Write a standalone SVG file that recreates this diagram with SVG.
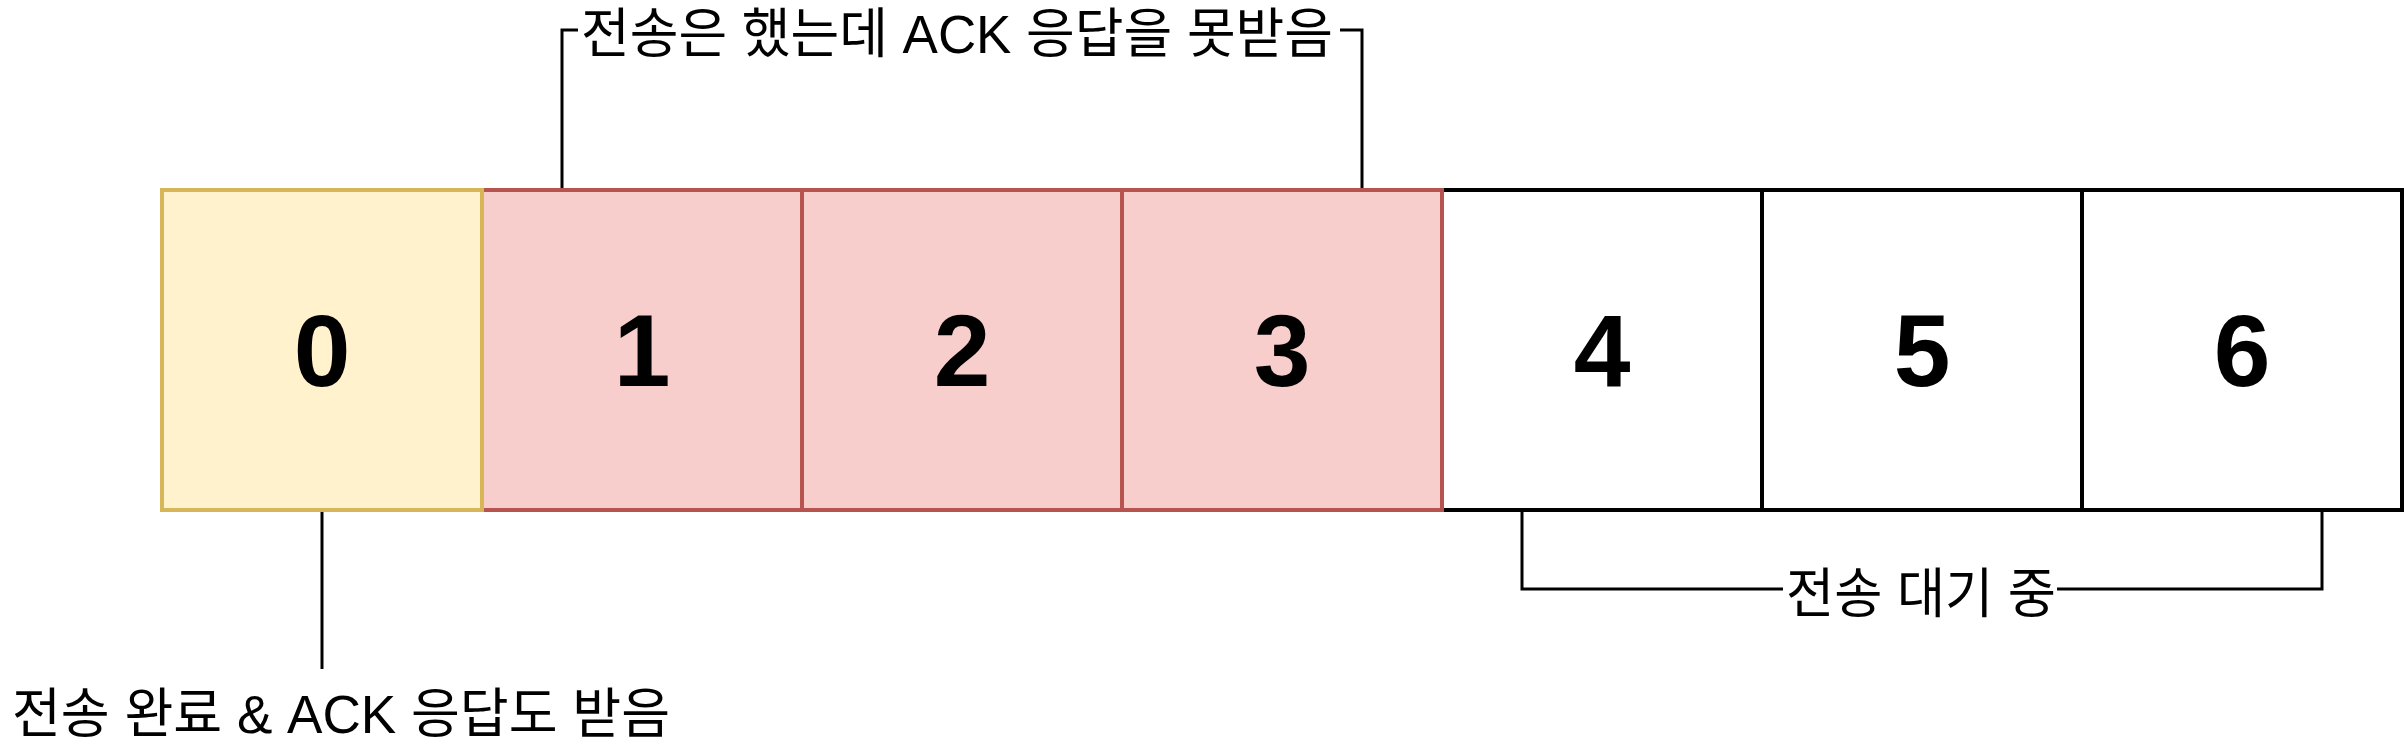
<svg xmlns="http://www.w3.org/2000/svg" width="2404" height="752" viewBox="0 0 2404 752">
<style>
.box{stroke-width:4}
.y{fill:#fff2cc;stroke:#d6b656}
.r{fill:#f8cecc;stroke:#b85450}
.w{fill:#ffffff;stroke:#000000}
.num{font-family:"Liberation Sans",Arial,sans-serif;font-weight:bold;font-size:102px;text-anchor:middle;fill:#000}
.lbl{font-family:"Liberation Sans","Noto Sans CJK KR",sans-serif;font-size:54px;fill:#000}
.ln{fill:none;stroke:#000;stroke-width:3}
</style>
<rect width="2404" height="752" fill="#ffffff"/>
<g id="connectors">
<path class="ln" d="M562,190 V30 H1362 V190"/>
<path class="ln" d="M1522,510 V589 H2322 V510"/>
<path class="ln" d="M322,510 V669"/>
</g>
<g id="node-4"><rect class="box w" x="1442" y="190" width="320" height="320"/><text class="num" x="1602" y="386">4</text></g>
<g id="node-5"><rect class="box w" x="1762" y="190" width="320" height="320"/><text class="num" x="1922" y="386">5</text></g>
<g id="node-6"><rect class="box w" x="2082" y="190" width="320" height="320"/><text class="num" x="2242" y="386">6</text></g>
<g id="node-1"><rect class="box r" x="482" y="190" width="320" height="320"/><text class="num" x="642" y="386">1</text></g>
<g id="node-2"><rect class="box r" x="802" y="190" width="320" height="320"/><text class="num" x="962" y="386">2</text></g>
<g id="node-3"><rect class="box r" x="1122" y="190" width="320" height="320"/><text class="num" x="1282" y="386">3</text></g>
<g id="node-0"><rect class="box y" x="162" y="190" width="320" height="320"/><text class="num" x="322" y="386">0</text></g>
<g id="label-top">
<rect x="578" y="6" width="762" height="54" fill="#ffffff"/>
<text class="lbl" x="581" y="53" textLength="752" lengthAdjust="spacingAndGlyphs">전송은 했는데 ACK 응답을 못받음</text>
</g>
<g id="label-wait">
<rect x="1783" y="564" width="274" height="54" fill="#ffffff"/>
<text class="lbl" x="1786" y="613" textLength="270" lengthAdjust="spacingAndGlyphs">전송 대기 중</text>
</g>
<g id="label-done">
<text class="lbl" x="12" y="733" textLength="658" lengthAdjust="spacingAndGlyphs">전송 완료 &amp; ACK 응답도 받음</text>
</g>
</svg>
